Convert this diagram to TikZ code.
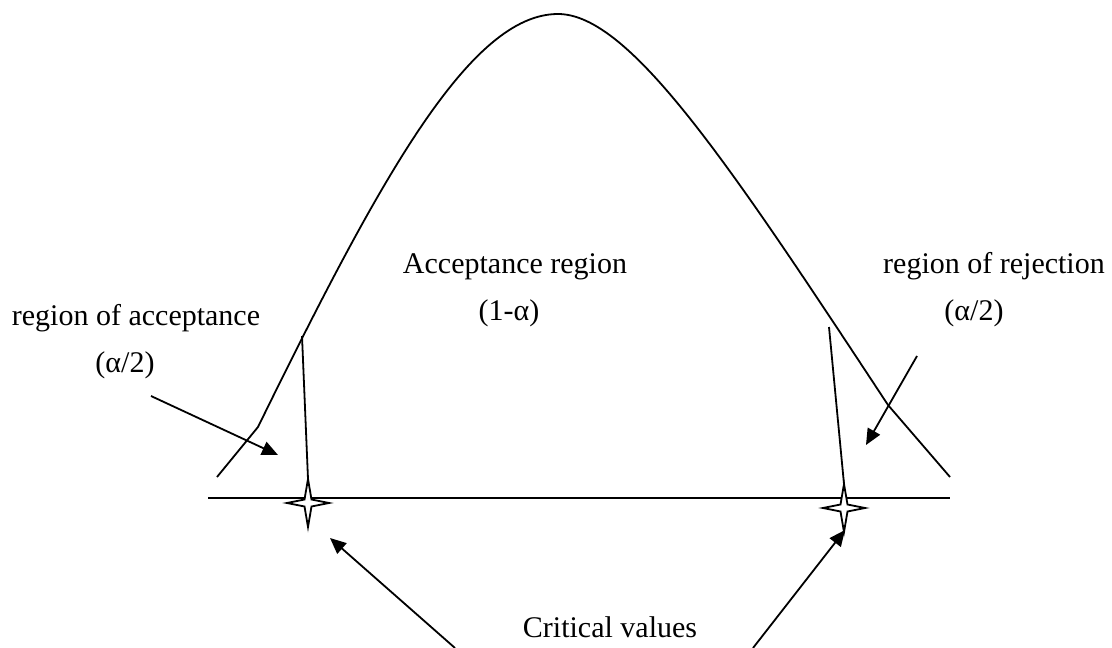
\documentclass[tikz,border=0pt]{standalone}
\usepackage{fontspec}
\setmainfont{Liberation Serif}
\usetikzlibrary{arrows.meta}
\tikzset{
  curveline/.style={line width=1.8pt, line join=round},
  ptr/.style={line width=1.8pt, -{Triangle[length=16pt,width=14pt]}},
  lbl/.style={inner sep=0pt, anchor=base, font=\fontsize{30}{36}\selectfont},
  critstar/.pic={\draw[line width=1.8pt, fill=white, line join=miter]
    (0,-24) -- (3.5,-3.5) -- (21,0) -- (3.5,3.5) -- (0,24) -- (-3.5,3.5) -- (-21,0) -- (-3.5,-3.5) -- cycle;}
}
\begin{document}
\begin{tikzpicture}[x=1pt,y=-1pt]
\useasboundingbox (0,0) rectangle (1112,648);

% bell curve
\draw[curveline] (217,477) -- (258,427)
  .. controls (380,178) and (470,14) .. (558,14)
  .. controls (630,14) and (730,165) .. (888,405)
  -- (950,477);

% axis
\coordinate (axL) at (208,498);
\coordinate (axR) at (950,498);
\draw[curveline] (axL) -- (axR);

% critical lines
\coordinate (cl1) at (302,336);
\coordinate (cl2) at (829,327);
\coordinate (s1) at (308,503);
\coordinate (s2) at (844,508);
\coordinate (s1top) at (308,479);
\coordinate (s2top) at (844,484);
\draw[curveline] (cl1) -- (s1top);
\draw[curveline] (cl2) -- (s2top);

% stars
\pic at (s1) {critstar};
\pic at (s2) {critstar};

% labels
\node[lbl] (acc) at (515,273) {Acceptance region};
\node[lbl] (onealpha) at (509,320) {(1-α)};
\node[lbl] (lacc) at (136,325) {region of acceptance};
\node[lbl] (lhalf) at (125,372) {(α/2)};
\node[lbl] (rrej) at (994,273) {region of rejection};
\node[lbl] (rhalf) at (974,320) {(α/2)};
\node[lbl] (crit) at (610,637) {Critical values};

% arrows
\coordinate (la0) at (151,396);
\coordinate (la1) at (278,455);
\coordinate (ra0) at (917,356);
\coordinate (ra1) at (866,445);
\coordinate (ca0) at (455,648);
\coordinate (ca1) at (330,538);
\coordinate (cb0) at (753,648);
\coordinate (cb1) at (845,530);
\draw[ptr] (la0) -- (la1);
\draw[ptr] (ra0) -- (ra1);
\draw[ptr] (ca0) -- (ca1);
\draw[ptr] (cb0) -- (cb1);
\end{tikzpicture}
\end{document}
